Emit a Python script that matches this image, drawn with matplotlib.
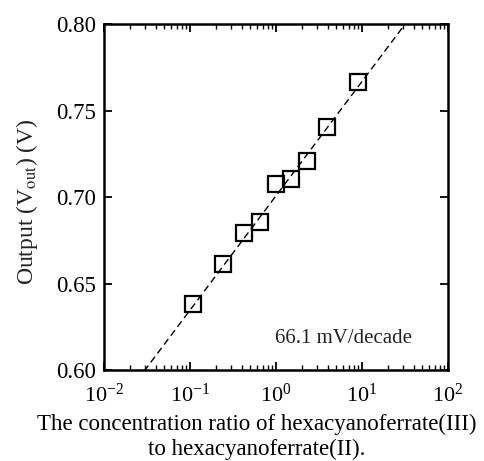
import numpy as np
import matplotlib
matplotlib.use("Agg")
import matplotlib.pyplot as plt
from matplotlib.ticker import LogLocator, NullFormatter, FixedLocator

plt.rcParams['font.family'] = ['Liberation Serif', 'DejaVu Serif']
plt.rcParams['mathtext.fontset'] = 'stix'

# concentration ratio [Fe(CN)6]3- / [Fe(CN)6]4- and measured output (V)
ratio = [0.109, 0.244, 0.425, 0.65, 0.99, 1.48, 2.31, 3.95, 9.06]
vout = [0.638, 0.661, 0.6794, 0.6857, 0.7075, 0.7102, 0.7208, 0.7403, 0.7667]

# linear fit on log scale: 66.1 mV/decade
slope = 0.0661
intercept = 0.7007

fig = plt.figure(figsize=(4.84, 4.61), dpi=100)
ax = fig.add_axes([104 / 484, 1 - 370 / 461, 344 / 484, 346 / 461])

xfit = np.logspace(-2, 2, 200)
ax.plot(xfit, intercept + slope * np.log10(xfit), ls=(0, (5, 3)), color='black', lw=1.0)
ax.plot(ratio, vout, 's', ms=11, mfc='none', mec='black', mew=1.6)

ax.set_xscale('log')
ax.set_xlim(1e-2, 1e2)
ax.set_ylim(0.60, 0.80)
ax.xaxis.set_major_locator(LogLocator(base=10, numticks=10))
ax.xaxis.set_minor_locator(LogLocator(base=10, subs=np.arange(2, 10), numticks=10))
ax.xaxis.set_minor_formatter(NullFormatter())
ax.yaxis.set_major_locator(FixedLocator([0.60, 0.65, 0.70, 0.75, 0.80]))
ax.set_yticklabels(['0.60', '0.65', '0.70', '0.75', '0.80'])

ax.tick_params(which='both', direction='in', top=True, right=True)
ax.tick_params(axis='y', labelsize=16.5, pad=6)
ax.tick_params(axis='x', labelsize=16, pad=10)
ax.tick_params(which='major', length=6, width=1.3)
ax.tick_params(which='minor', length=3.5, width=1.0)
for sp in ax.spines.values():
    sp.set_linewidth(1.8)

ax.text(0.695, 0.092, '66.1 mV/decade', transform=ax.transAxes, ha='center', va='center',
        fontsize=15, color='#222222')

fig.text(27 / 484, 1 - 202 / 461, r'Output (V$_{\mathrm{out}}$) (V)', rotation=90,
         ha='center', va='center', fontsize=17, color='#222222')
fig.text(257 / 484, 1 - 437 / 461,
         'The concentration ratio of hexacyanoferrate(III)\nto hexacyanoferrate(II).',
         ha='center', va='center', fontsize=16.5, linespacing=1.2)

fig.savefig('out.png', dpi=100)
